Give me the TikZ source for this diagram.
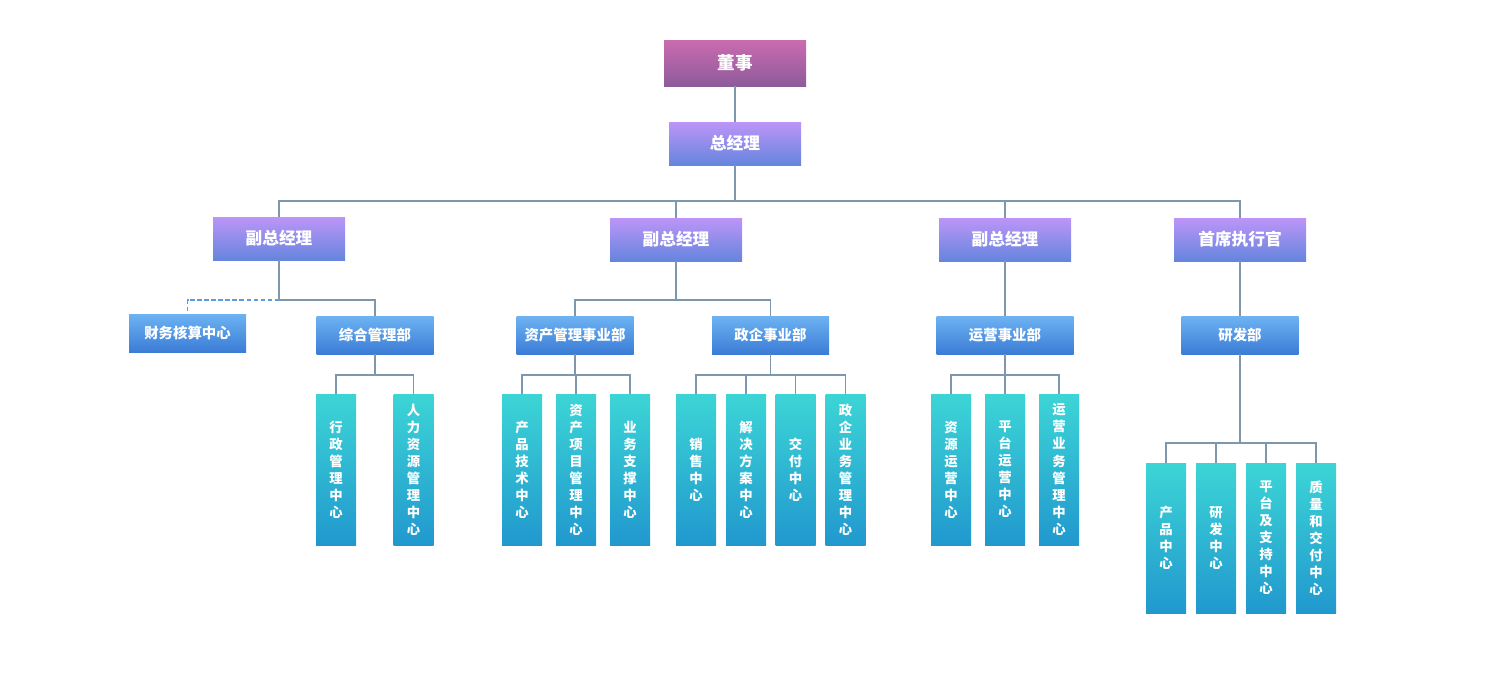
\documentclass[tikz,border=0pt]{standalone}
\usepackage{fontspec}
\setmainfont{Noto Sans CJK SC}
\definecolor{boardTop}{HTML}{CB6BB0}
\definecolor{boardBot}{HTML}{8D5B9B}
\definecolor{mgrTop}{HTML}{BC95F7}
\definecolor{mgrBot}{HTML}{6585DE}
\definecolor{deptTop}{HTML}{6DB3F2}
\definecolor{deptBot}{HTML}{3B7CD6}
\definecolor{leafTop}{HTML}{3CD5D6}
\definecolor{leafBot}{HTML}{2198CE}
\definecolor{lineCol}{HTML}{7E97AD}
\definecolor{dashCol}{HTML}{5A9BE3}

\begin{document}
\begin{tikzpicture}[x=0.02cm,y=-0.02cm,
        box/.style = {inner sep=0pt,text=white,align=center},
        boardNode/.style = {box,top color=boardTop,bottom color=boardBot,
            minimum width=142*0.02cm,minimum height=46*0.02cm,
            font=\bfseries\fontsize{10}{12}\selectfont},
        mgrNode/.style = {box,top color=mgrTop,bottom color=mgrBot,
            minimum width=132*0.02cm,minimum height=43*0.02cm,
            font=\bfseries\fontsize{9.5}{11}\selectfont},
        deptNode/.style = {box,top color=deptTop,bottom color=deptBot,
            minimum width=117*0.02cm,minimum height=38*0.02cm,
            font=\bfseries\fontsize{8.2}{10}\selectfont},
        leafNode/.style = {box,top color=leafTop,bottom color=leafBot,
            minimum width=40*0.02cm,minimum height=151*0.02cm,
            font=\bfseries\fontsize{7.6}{9.7}\selectfont},
        link/.style = {draw=lineCol,line width=1.1pt},
        dashLink/.style = {draw=dashCol,line width=0.9pt,dash pattern=on 2.5pt off 1.5pt}
        ]
        \useasboundingbox (0,0) rectangle (1500,683);
        % top of the tree
        \node[boardNode] (board) at (735,63) {董事};
        \node[mgrNode] (gm) at (735,143.5) {总经理};
        \node[mgrNode] (vpA) at (279,238.5) {副总经理};
        \node[mgrNode] (vpB) at (676,239.5) {副总经理};
        \node[mgrNode] (vpC) at (1005,239.5) {副总经理};
        \node[mgrNode] (ceo) at (1240,239.5) {首席执行官};
        % departments
        \node[deptNode] (finance) at (187.5,333) {财务核算中心};
        \node[deptNode] (admin) at (375,335) {综合管理部};
        \node[deptNode] (asset) at (575,335) {资产管理事业部};
        \node[deptNode] (gov) at (770.5,335) {政企事业部};
        \node[deptNode,minimum width=137*0.02cm] (ops) at (1005,335) {运营事业部};
        \node[deptNode] (rnd) at (1240,335) {研发部};
        % centres
        \node[leafNode] (adminA) at (336,469.5) {行\\政\\管\\理\\中\\心};
        \node[leafNode] (adminB) at (413.5,469.5) {人\\力\\资\\源\\管\\理\\中\\心};
        \node[leafNode] (assetA) at (522,469.5) {产\\品\\技\\术\\中\\心};
        \node[leafNode] (assetB) at (576,469.5) {资\\产\\项\\目\\管\\理\\中\\心};
        \node[leafNode] (assetC) at (630,469.5) {业\\务\\支\\撑\\中\\心};
        \node[leafNode] (govA) at (696,469.5) {销\\售\\中\\心};
        \node[leafNode] (govB) at (746,469.5) {解\\决\\方\\案\\中\\心};
        \node[leafNode] (govC) at (795.5,469.5) {交\\付\\中\\心};
        \node[leafNode] (govD) at (845.5,469.5) {政\\企\\业\\务\\管\\理\\中\\心};
        \node[leafNode] (opsA) at (951,469.5) {资\\源\\运\\营\\中\\心};
        \node[leafNode] (opsB) at (1005,469.5) {平\\台\\运\\营\\中\\心};
        \node[leafNode] (opsC) at (1059,469.5) {运\\营\\业\\务\\管\\理\\中\\心};
        \node[leafNode,minimum height=150*0.02cm] (rndA) at (1166,538) {产\\品\\中\\心};
        \node[leafNode,minimum height=150*0.02cm] (rndB) at (1216,538) {研\\发\\中\\心};
        \node[leafNode,minimum height=150*0.02cm] (rndC) at (1266,538) {平\\台\\及\\支\\持\\中\\心};
        \node[leafNode,minimum height=150*0.02cm] (rndD) at (1316,538) {质\\量\\和\\交\\付\\中\\心};
        % bus points
        \coordinate (topBus) at (735,201);
        \coordinate (vpABus) at (279,300);
        \coordinate (vpBBus) at (676,300);
        \coordinate (adminBus) at (375,375);
        \coordinate (assetBus) at (575,375);
        \coordinate (govBus) at (770.5,375);
        \coordinate (opsBus) at (1005,375);
        \coordinate (rndBus) at (1240,443);
        % connectors
        \draw[link] (board) -- (gm);
        \draw[link] (gm) -- (topBus);
        \draw[link] (vpA.north) |- (topBus) -| (ceo.north);
        \draw[link] (vpB.north) -- (vpB.north |- topBus);
        \draw[link] (vpC.north) -- (vpC.north |- topBus);
        \draw[link] (vpA) -- (vpABus) -| (admin.north);
        \draw[dashLink] (vpABus) -| (finance.north);
        \draw[link] (vpB) -- (vpBBus);
        \draw[link] (asset.north) |- (vpBBus) -| (gov.north);
        \draw[link] (vpC) -- (ops);
        \draw[link] (ceo) -- (rnd);
        \draw[link] (admin) -- (adminBus);
        \draw[link] (adminA.north) |- (adminBus) -| (adminB.north);
        \draw[link] (asset) -- (assetBus);
        \draw[link] (assetA.north) |- (assetBus) -| (assetC.north);
        \draw[link] (assetB.north) -- (assetB.north |- assetBus);
        \draw[link] (gov) -- (govBus);
        \draw[link] (govA.north) |- (govBus) -| (govD.north);
        \draw[link] (govB.north) -- (govB.north |- govBus);
        \draw[link] (govC.north) -- (govC.north |- govBus);
        \draw[link] (ops) -- (opsBus);
        \draw[link] (opsA.north) |- (opsBus) -| (opsC.north);
        \draw[link] (opsB.north) -- (opsB.north |- opsBus);
        \draw[link] (rnd) -- (rndBus);
        \draw[link] (rndA.north) |- (rndBus) -| (rndD.north);
        \draw[link] (rndB.north) -- (rndB.north |- rndBus);
        \draw[link] (rndC.north) -- (rndC.north |- rndBus);
\end{tikzpicture}
\end{document}
